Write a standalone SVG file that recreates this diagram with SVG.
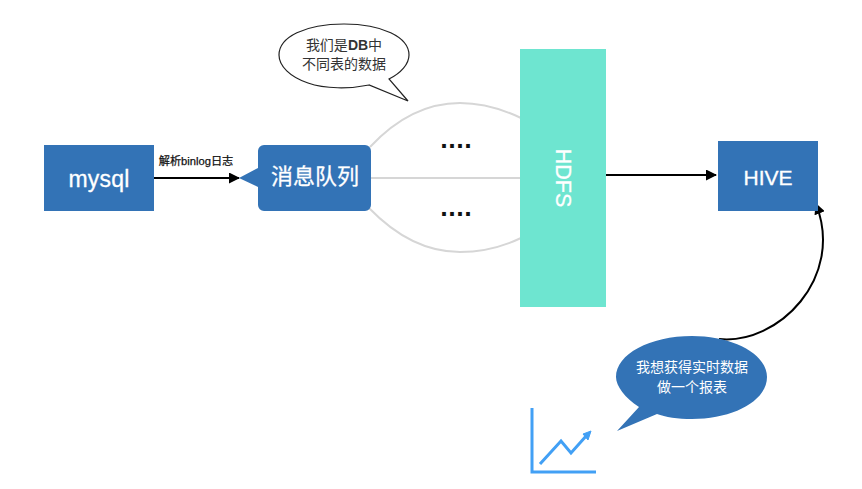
<svg xmlns="http://www.w3.org/2000/svg" width="862" height="489" viewBox="0 0 862 489">
<style>
text{font-family:"Liberation Sans","Noto Sans CJK SC",sans-serif;text-anchor:middle}
.w{fill:#fff;stroke:#fff;stroke-width:.3}
.t{fill:#fff}
.blue{fill:#3373b6}
.g{fill:none;stroke:#d6d6d6;stroke-width:2}
.k{fill:none;stroke:#000;stroke-width:2}
.dots{font-family:"DejaVu Sans",sans-serif;font-size:21px;font-weight:bold;fill:#111}
</style>
<defs>
<marker id="a" markerUnits="userSpaceOnUse" markerWidth="11" markerHeight="11" refX="10" refY="5.5" orient="auto"><path d="M0 0L11 5.5L0 11z" fill="#000"/></marker>
</defs>
<rect width="862" height="489" fill="#fff"/>
<g id="connectors">
<path class="g" d="M370 147C398 117 428 103 460 103C482 103 502 109 521 118"/>
<path class="g" d="M371 178H521"/>
<path class="g" d="M369 208C398 238 428 252 460 252C482 252 502 247 521 238"/>
<path class="k" d="M153 178H239" marker-end="url(#a)"/>
<path class="k" d="M606 175H716" marker-end="url(#a)"/>
<path class="k" d="M719 339C778 345 845 278 816 204" marker-end="url(#a)"/>
</g>
<g id="mysql"><rect class="blue" x="44" y="145" width="110" height="66"/><text class="w" x="99" y="187" font-size="23" letter-spacing=".2">mysql</text></g>
<text x="196" y="165" font-size="11.2" fill="#111" stroke="#111" stroke-width=".25">解析binlog日志</text>
<g id="queue"><path class="blue" d="M264 145H365a6 6 0 0 1 6 6V205a6 6 0 0 1-6 6H264a6 6 0 0 1-6-6V187L239 178L258 168V151a6 6 0 0 1 6-6z"/><text class="w" x="315" y="184" font-size="22">消息队列</text></g>
<g id="bubble1"><path d="M369 85C350 89 325 89 308 83C290 77 279 66 279 55C279 37 305 24 344 24C382 24 409 37 409 55C409 64 401 73 389 79L408 101z" fill="#fff" stroke="#222" stroke-width="1.2"/>
<text x="344" y="50" font-size="14" fill="#333">我们是<tspan font-weight="bold">DB</tspan>中</text><text x="344" y="69" font-size="14" fill="#333">不同表的数据</text></g>
<g id="dots1"><text class="dots" x="456" y="148">....</text></g>
<g id="dots2"><text class="dots" x="456" y="216">....</text></g>
<g id="hdfs"><rect x="520" y="49" width="86" height="258" fill="#6ee5d0"/><text class="w" transform="translate(556 178) rotate(90)" font-size="21.5">HDFS</text></g>
<g id="hive"><rect class="blue" x="718" y="141" width="100" height="70"/><text class="w" x="768" y="185" font-size="21">HIVE</text></g>
<g id="bubble2"><path class="blue" d="M617 431L639 407C625 398 616 386 616 377C616 354 650 336 692 336C733 336 767 354 767 377C767 401 733 419 692 419C678 419 665 417 657 414z"/>
<text class="t" x="692" y="372" font-size="14">我想获得实时数据</text><text class="t" x="692" y="392" font-size="14">做一个报表</text></g>
<g id="chart" fill="none" stroke="#42a0f5" stroke-width="3"><path d="M532 408V472H596"/><path d="M540 464L561 441L571 453L587 435"/><path d="M591 431L583 434L588 440z" fill="#42a0f5" stroke-width="1"/></g>
</svg>
